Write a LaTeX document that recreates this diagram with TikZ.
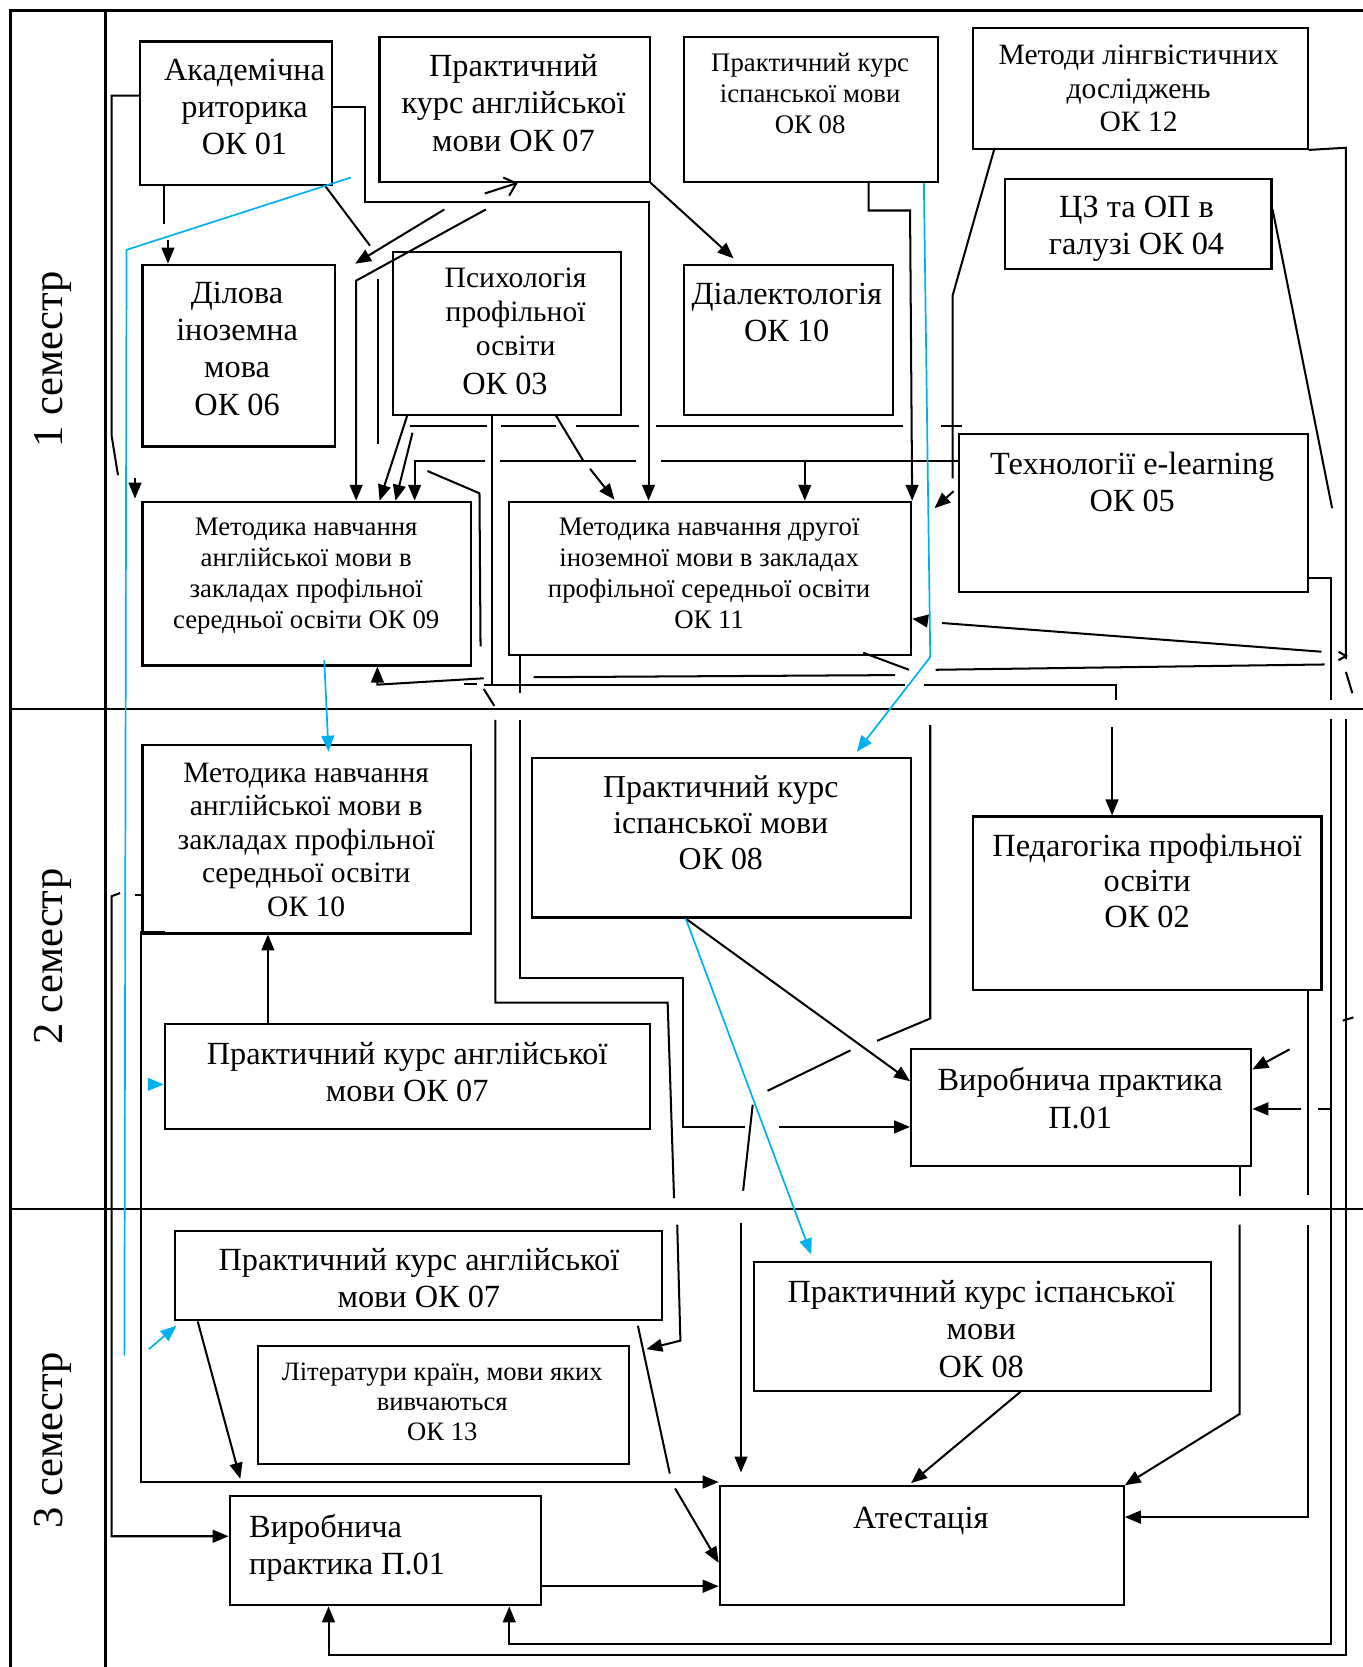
\documentclass[tikz,border=0pt]{standalone}
\usepackage{fontspec}
\setmainfont{Liberation Serif}
\usetikzlibrary{arrows.meta}
\definecolor{skyline}{RGB}{0,176,240}
\tikzset{subject node/.style={draw,line width=1pt,inner sep=0pt,anchor=north west},
         text node/.style={anchor=north,align=center,inner sep=0pt,font=\fontsize{15.2}{17.5}\selectfont},
         small text/.style={text node,font=\fontsize{12.6}{14.5}\selectfont},
         semester/.style={rotate=90,inner sep=0pt,font=\fontsize{20}{24}\selectfont},
         grid line/.style={line width=1.2pt},
         link/.style={line width=0.95pt},
         link arrow/.style={link,-{Triangle[length=7.5pt,width=6pt]}},
         blue link/.style={draw=skyline,line width=0.8pt},
         blue arrow/.style={blue link,-{Triangle[length=7.5pt,width=6pt]}},
            }

\begin{document}
\begin{tikzpicture}[x=0.5pt,y=-0.5pt]
    \useasboundingbox (0,0) rectangle (1282,1568);
    %% table
    \draw[grid line] (10,1568) -- (10,10) -- (1282,10);
    \draw[grid line] (99,10) -- (99,1568);
    \draw[grid line] (10,667) -- (1282,667);
    \draw[grid line] (10,1137) -- (1282,1137);
    \node[semester] (s1) at (50,338) {1 семестр};
    \node[semester] (s2) at (50,900) {2 семестр};
    \node[semester] (s3) at (50,1355) {3 семестр};

    %% subjects
    \node[subject node,minimum width=90pt,minimum height=67.5pt] (1) at (131,38) {};
    \node[subject node,minimum width=127pt,minimum height=68pt] (2) at (356,34) {};
    \node[subject node,minimum width=119.5pt,minimum height=68pt] (3) at (642,34) {};
    \node[subject node,minimum width=157.5pt,minimum height=57pt] (4) at (914,25) {};
    \node[subject node,minimum width=125.5pt,minimum height=42.5pt] (5) at (944,167) {};
    \node[subject node,minimum width=90.5pt,minimum height=85.5pt] (6) at (133,248) {};
    \node[subject node,minimum width=107pt,minimum height=76.5pt] (7) at (369,236) {};
    \node[subject node,minimum width=98.5pt,minimum height=70.5pt] (8) at (642,248) {};
    \node[subject node,minimum width=164pt,minimum height=74.5pt] (9) at (901,407) {};
    \node[subject node,minimum width=154.5pt,minimum height=77pt] (10) at (133,471) {};
    \node[subject node,minimum width=189pt,minimum height=72pt] (11) at (478,471) {};
    \node[subject node,minimum width=154.5pt,minimum height=88.5pt] (12) at (133,700) {};
    \node[subject node,minimum width=178.5pt,minimum height=75pt] (13) at (499,712) {};
    \node[subject node,minimum width=164pt,minimum height=81.5pt] (14) at (914,767) {};
    \node[subject node,minimum width=228pt,minimum height=49.5pt] (15) at (154,962) {};
    \node[subject node,minimum width=160pt,minimum height=55pt] (16) at (856,986) {};
    \node[subject node,minimum width=229pt,minimum height=42pt] (17) at (164,1157) {};
    \node[subject node,minimum width=215pt,minimum height=60.5pt] (18) at (708,1186) {};
    \node[subject node,minimum width=174.5pt,minimum height=55.5pt] (19) at (242,1265) {};
    \node[subject node,minimum width=146.5pt,minimum height=51.5pt] (20) at (215,1406) {};
    \node[subject node,minimum width=190pt,minimum height=56pt] (21) at (676,1397) {};

    %% texts
    \node[text node] (t1) at (230,55) {Академічна\\риторика\\ОК 01};
    \node[text node] (t2) at (483,51) {Практичний\\курс англійської\\мови ОК 07};
    \node[small text] (t3) at (762,50) {Практичний курс\\іспанської мови\\ОК 08};
    \node[text node,font=\fontsize{13.9}{15.75}\selectfont] (t4) at (1071,42) {Методи лінгвістичних\\досліджень\\ОК 12};
    \node[text node] (t5) at (1069,184) {ЦЗ та ОП в\\галузі ОК 04};
    \node[text node] (t6) at (223,265) {Ділова\\іноземна\\мова\\ОК 06};
    \node[text node,font=\fontsize{13.9}{16}\selectfont] (t7) at (485,252) {Психологія\\профільної\\освіти};
    \node[text node] (t7b) at (475,350) {ОК 03};
    \node[text node] (t8) at (740,266) {Діалектологія\\ОК 10};
    \node[text node] (t9) at (1065,425) {Технології e-learning\\ОК 05};
    \node[small text] (t10) at (288,487) {Методика навчання\\англійської мови в\\закладах профільної\\середньої освіти ОК 09};
    \node[small text] (t11) at (667,487) {Методика навчання другої\\іноземної мови в закладах\\профільної середньої освіти\\ОК 11};
    \node[text node,font=\fontsize{13.9}{15.75}\selectfont] (t12) at (288,717) {Методика навчання\\англійської мови в\\закладах профільної\\середньої освіти\\ОК 10};
    \node[text node,font=\fontsize{15}{17}\selectfont] (t13) at (678,729) {Практичний курс\\іспанської мови\\ОК 08};
    \node[text node,font=\fontsize{15.2}{16.75}\selectfont] (t14) at (1079,784) {Педагогіка профільної\\освіти\\ОК 02};
    \node[text node] (t15) at (383,980) {Практичний курс англійської\\мови ОК 07};
    \node[text node] (t16) at (1016,1004) {Виробнича практика\\П.01};
    \node[text node] (t17) at (394,1174) {Практичний курс англійської\\мови ОК 07};
    \node[text node] (t18) at (923,1204) {Практичний курс іспанської\\мови\\ОК 08};
    \node[small text,font=\fontsize{12.5}{14}\selectfont] (t19) at (416,1282) {Літератури країн, мови яких\\вивчаються\\ОК 13};
    \node[text node,anchor=north west,align=left] (t20) at (234,1424) {Виробнича\\практика П.01};
    \node[text node] (t21) at (866,1417) {Атестація};

    %% semester 1
    \draw[link] (1.west |- 0,90) -- (105,90) -- (105,410) -- (111,447);
    \draw[link arrow] (127,450) -- (127,469);
    \draw[link arrow] (1.east |- 0,101) -- (343,101) -- (343,190) -- (610,190) -- (11.north -| 610,0);
    \draw[link] (1.south -| 154,0) -- (154,211);
    \draw[link arrow] (158,226) -- (6.north -| 158,0);
    \draw[link] (306,175) -- (348,231);
    \draw[link arrow] (418,197) -- (334,248);
    \draw[link arrow] (457,197) -- (335,264) -- (10.north -| 335,0);
    \draw[link,-{Straight Barb[length=5pt,width=9pt]}] (456,182) -- (2.south -| 487,0);
    \draw[link] (356,262) -- (356,418);
    \draw[link arrow] (7.south -| 383,0) -- (10.north -| 357,0);
    \draw[link arrow] (388,407) -- (10.north -| 372,0);
    \draw[link] (9.west |- 0,434) -- (622,434) (598,434) -- (470,434);
    \draw[link arrow] (456,434) -- (390,434) -- (10.north -| 390,0);
    \draw[link arrow] (757,434) -- (11.north -| 757,0);
    \draw[link] (386,401) -- (458,401) (471,401) -- (523,401) (542,401) -- (601,401)
                (617,401) -- (849,401) (885,401) -- (905,401);
    \draw[link] (4.south -| 935,0) -- (896,278) -- (896,450);
    \draw[link arrow] (897,462) -- (879,478);
    \draw[link arrow] (3.south -| 817,0) -- (817,198) -- (856,198) -- (11.north east);
    \draw[link arrow] (2.south east) -- (690,243);
    \draw[link] (7.south -| 523,0) -- (549,434);
    \draw[link arrow] (555,441) -- (578,470);
    \draw[link] (402,443) -- (451,464) -- (452,608);
    \draw[link] (1243,613) -- (886,586);
    \draw[link arrow] (872,584) -- (11.east |- 0,582);
    \draw[link] (1259,613) -- (1266,617) -- (1259,621);
    \draw[link] (1246,625) -- (880,630) (842,635) -- (502,637);
    \draw[link arrow] (455,638) -- (355,644) -- (10.south -| 355,0);
    \draw[link] (812,614) -- (855,630);
    \draw[link] (436,643) -- (449,643) (455,644) -- (851,644) (869,644) -- (1050,644) -- (1050,658);
    \draw[link] (455,648) -- (465,664);
    \draw[link] (7.south -| 463,0) -- (463,643);
    \draw[link] (11.south -| 489,0) -- (489,652);

    %% right side
    \draw[link] (4.south east) -- (1266,139) -- (1266,620);
    \draw[link] (1266,632) -- (1272,652);
    \draw[link arrow] (1266,676) -- (1266,1557) -- (309,1557) -- (20.south -| 309,0);
    \draw[link] (5.east |- 0,197) -- (1253,478);
    \draw[link] (9.east |- 0,544) -- (1252,544) -- (1252,658);
    \draw[link arrow] (1252,676) -- (1252,1546) -- (479,1546) -- (20.south -| 479,0);
    \draw[link] (14.south -| 1230,0) -- (1230,1124);
    \draw[link arrow] (1230,1152) -- (1230,1427) -- (21.east |- 0,1427);
    \draw[link] (1252,1043) -- (1240,1043);
    \draw[link arrow] (1224,1043) -- (16.east |- 0,1043);
    \draw[link] (1273,957) -- (1263,960);
    \draw[link arrow] (1213,987) -- (16.east |- 0,1006);

    %% semester 2
    \draw[link arrow] (1046,684) -- (14.north -| 1046,0);
    \draw[link] (466,677) -- (466,943) -- (628,943) -- (634,1127);
    \draw[link arrow] (637,1152) -- (640,1261) -- (608,1269);
    \draw[link] (489,677) -- (489,920) -- (642,920) -- (642,1060) -- (701,1060);
    \draw[link arrow] (733,1060) -- (16.west |- 0,1060);
    \draw[link] (875,682) -- (875,958) -- (825,979) (800,988) -- (722,1026);
    \draw[link arrow] (13.south -| 645,0) -- (16.west |- 0,1017);
    \draw[link] (708,1039) -- (699,1120);
    \draw[link arrow] (697,1150) -- (697,1385);
    \draw[link] (16.south -| 1166,0) -- (1166,1125);
    \draw[link arrow] (1166,1152) -- (1166,1330) -- (21.north east);
    \draw[link arrow] (15.north -| 252,0) -- (12.south -| 252,0);
    \draw[link arrow] (113,840) -- (105,843) -- (105,1445) -- (20.west |- 0,1445);
    \draw[link] (127,842) -- (133,842);
    \draw[link arrow] (155,877) -- (133,877) -- (133,1394) -- (21.west |- 0,1394);

    %% semester 3
    \draw[link arrow] (17.south -| 186,0) -- (226,1391);
    \draw[link] (600,1247) -- (630,1386);
    \draw[link arrow] (635,1400) -- (21.west |- 0,1470);
    \draw[link arrow] (20.east |- 0,1492) -- (21.west |- 0,1492);
    \draw[link arrow] (18.south -| 960,0) -- (857,1395);

    %% blue links
    \draw[blue link] (330,167) -- (119,235) -- (117,1275);
    \draw[blue arrow] (141,1020) -- (15.west |- 0,1020);
    \draw[blue arrow] (140,1269) -- (166,1247);
    \draw[blue arrow] (3.south -| 869,0) -- (875,618) -- (806,707);
    \draw[blue arrow] (305,621) -- (309,707);
    \draw[blue arrow] (13.south -| 645,0) -- (763,1180);
    %%
\end{tikzpicture}
\end{document}
